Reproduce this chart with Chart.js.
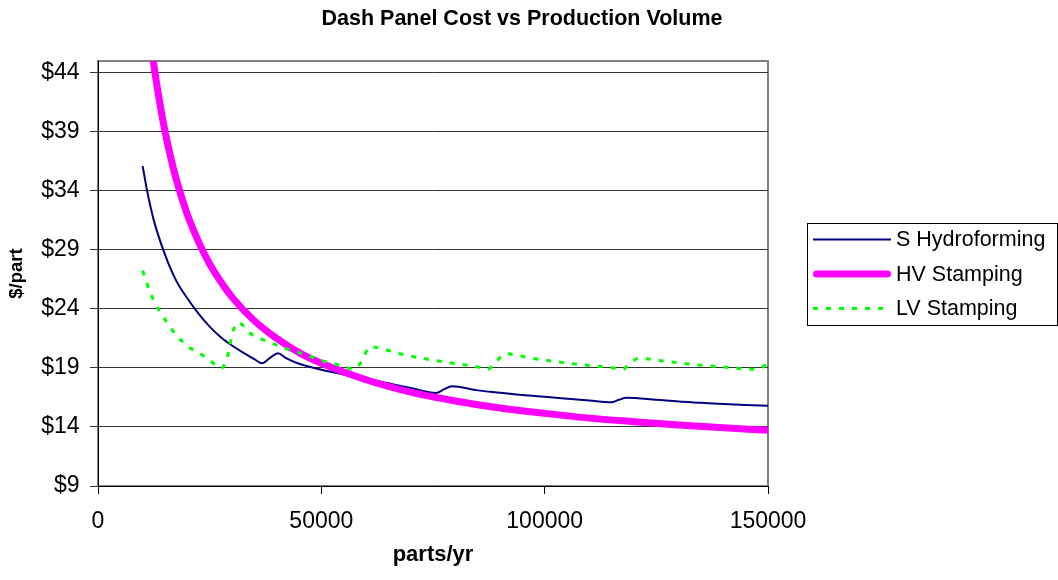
<!DOCTYPE html>
<html><head><meta charset="utf-8">
<script src="https://cdn.jsdelivr.net/npm/chart.js@4.4.1/dist/chart.umd.min.js"></script>
<style>html,body{margin:0;padding:0;background:#fff;}canvas{display:block;}</style>
</head><body>
<canvas id="c" width="1058" height="580"></canvas>
<script>
const chartTitle = 'Dash Panel Cost vs Production Volume';
const xAxisTitle = 'parts/yr';
const yAxisTitle = '$/part';
const seriesNames = ['S Hydroforming', 'HV Stamping', 'LV Stamping'];
const xTickValues = [0, 50000, 100000, 150000];
const yTickValues = [9, 14, 19, 24, 29, 34, 39, 44];

const hydroVolumes = [10000, 11000, 12500, 15000, 17500, 20000, 22500, 25000, 27500, 30000, 32500, 35000, 36700, 38500, 40300, 42000, 45000, 50000, 55000, 60000, 65000, 70000, 75700, 77500, 79200, 85000, 90000, 95000, 100000, 105000, 110000, 115000, 116600, 118300, 125000, 130000, 135000, 140000, 145000, 150000];
const hydroCost = [36.1, 34.0, 31.5, 28.6, 26.4, 24.9, 23.6, 22.5, 21.6, 20.9, 20.3, 19.75, 19.4, 19.85, 20.25, 19.85, 19.35, 18.85, 18.45, 18.1, 17.7, 17.3, 16.87, 17.2, 17.45, 17.1, 16.9, 16.7, 16.55, 16.4, 16.25, 16.1, 16.3, 16.47, 16.3, 16.15, 16.05, 15.95, 15.87, 15.8];

const hvVolumes = [10000, 11000, 12000, 13000, 14000, 15000, 16000, 17500, 20000, 22500, 25000, 27500, 30000, 35000, 40000, 45000, 50000, 60000, 70000, 80000, 90000, 100000, 110000, 120000, 130000, 140000, 150000];
const hvCost = [53.1, 49.3, 46.1, 43.4, 41.1, 39.05, 37.3, 35.0, 32.0, 29.7, 27.8, 26.3, 25.0, 23.0, 21.5, 20.3, 19.4, 18.0, 16.95, 16.2, 15.6, 15.15, 14.75, 14.45, 14.17, 13.93, 13.73];

const lvVolumes = [10000, 11000, 12500, 15000, 17500, 20000, 22500, 25000, 27500, 28800, 30300, 31400, 34000, 37000, 40000, 43000, 46700, 49700, 52300, 55300, 57100, 59000, 60900, 64600, 67600, 73600, 79500, 85500, 87200, 89200, 91100, 97500, 106400, 115400, 117500, 119100, 121000, 127300, 133000, 139300, 147500, 150000];
const lvCost = [27.25, 26.1, 24.7, 23.1, 21.8, 20.85, 20.3, 19.65, 18.97, 19.7, 22.2, 22.85, 21.95, 21.37, 20.94, 20.52, 20.1, 19.67, 19.39, 19.1, 18.88, 19.55, 20.8, 20.52, 20.2, 19.75, 19.4, 19.05, 18.88, 19.55, 20.2, 19.8, 19.35, 19.0, 18.88, 19.4, 19.8, 19.55, 19.3, 19.1, 18.88, 19.35];

const FONT = "'Liberation Sans', Arial, Helvetica, sans-serif";
const toPoints = (xs, ys) => xs.map((x, i) => ({ x: x, y: ys[i] }));

const framePlugin = {
  id: 'frame',
  beforeDraw(chart) {
    const { ctx, chartArea: a } = chart;
    ctx.save();
    ctx.strokeStyle = '#808080';
    ctx.lineWidth = 2;
    ctx.strokeRect(a.left, a.top, a.right - a.left, a.bottom - a.top);
    ctx.restore();
  }
};

const titlePlugin = {
  id: 'customTitle',
  afterDraw(chart) {
    const ctx = chart.ctx;
    ctx.save();
    ctx.font = 'bold 21.5px ' + FONT;
    ctx.fillStyle = '#000';
    ctx.textAlign = 'center';
    ctx.textBaseline = 'middle';
    ctx.fillText(chartTitle, 522, 19.3);
    ctx.restore();
  }
};

const legendPlugin = {
  id: 'customLegend',
  afterDraw(chart) {
    const ctx = chart.ctx;
    ctx.save();
    ctx.strokeStyle = '#000';
    ctx.lineWidth = 1;
    ctx.setLineDash([]);
    ctx.strokeRect(807.5, 223.5, 250, 102);
    chart.data.datasets.forEach((ds, i) => {
      const y = 240.5 + i * 34.5;
      ctx.save();
      ctx.strokeStyle = ds.borderColor;
      ctx.lineWidth = ds.borderWidth;
      ctx.lineCap = ds.legendCap || 'butt';
      ctx.setLineDash(ds.borderDash || []);
      ctx.beginPath();
      const inset = ds.legendCap === 'round' ? ds.borderWidth / 2 : 0;
      ctx.moveTo(813 + inset, y - 1);
      ctx.lineTo(891 - inset, y - 1);
      ctx.stroke();
      ctx.restore();
      ctx.font = '21.5px ' + FONT;
      ctx.fillStyle = '#000';
      ctx.textAlign = 'left';
      ctx.textBaseline = 'middle';
      ctx.fillText(ds.label, 896, y);
    });
    ctx.restore();
  }
};

new Chart(document.getElementById('c'), {
  type: 'line',
  data: {
    datasets: [
      {
        label: seriesNames[0],
        data: toPoints(hydroVolumes, hydroCost),
        borderColor: '#000080',
        borderWidth: 2,
        pointRadius: 0,
        cubicInterpolationMode: 'monotone',
        fill: false,
        clip: 0,
        order: 2
      },
      {
        label: seriesNames[1],
        data: toPoints(hvVolumes, hvCost),
        borderColor: '#FF00FF',
        borderWidth: 7,
        legendCap: 'round',
        borderJoinStyle: 'round',
        pointRadius: 0,
        cubicInterpolationMode: 'monotone',
        fill: false,
        clip: 0,
        order: 1
      },
      {
        label: seriesNames[2],
        data: toPoints(lvVolumes, lvCost),
        borderColor: '#00FF00',
        borderWidth: 3,
        borderDash: [5, 8],
        pointRadius: 0,
        cubicInterpolationMode: 'monotone',
        fill: false,
        clip: 0,
        order: 0
      }
    ]
  },
  options: {
    responsive: false,
    animation: false,
    devicePixelRatio: 1,
    layout: { padding: { top: 61, right: 290, bottom: 0, left: 0 } },
    plugins: {
      legend: { display: false },
      title: { display: false },
      tooltip: { enabled: false }
    },
    scales: {
      x: {
        type: 'linear',
        min: 0,
        max: 150000,
        afterBuildTicks: (s) => { s.ticks = xTickValues.map(v => ({ value: v })); },
        afterFit: (s) => { s.height = 94; },
        grid: { drawOnChartArea: false, drawTicks: true, tickLength: 8, color: '#000', lineWidth: 1 },
        border: { display: true, color: '#000', width: 1 },
        ticks: {
          padding: 14,
          color: '#000',
          maxRotation: 0,
          autoSkip: false,
          font: { family: FONT, size: 23 },
          callback: (v) => String(v)
        },
        title: {
          display: true,
          text: xAxisTitle,
          color: '#000',
          font: { family: FONT, size: 22, weight: 'bold' },
          padding: { top: 0, bottom: 12 }
        }
      },
      y: {
        type: 'linear',
        min: 9,
        max: 45,
        afterBuildTicks: (s) => { s.ticks = yTickValues.map(v => ({ value: v })); },
        afterFit: (s) => { s.width = 98; },
        grid: { drawOnChartArea: true, drawTicks: true, tickLength: 8, color: '#333', lineWidth: 1 },
        border: { display: true, color: '#000', width: 1 },
        ticks: {
          padding: 10.5,
          color: '#000',
          autoSkip: false,
          font: { family: FONT, size: 23 },
          callback: (v) => '$' + v
        },
        title: {
          display: true,
          text: yAxisTitle,
          color: '#000',
          font: { family: FONT, size: 18.5, weight: 'bold' },
          padding: { top: 6, bottom: 0 }
        }
      }
    }
  },
  plugins: [framePlugin, titlePlugin, legendPlugin]
});
</script>
</body></html>
